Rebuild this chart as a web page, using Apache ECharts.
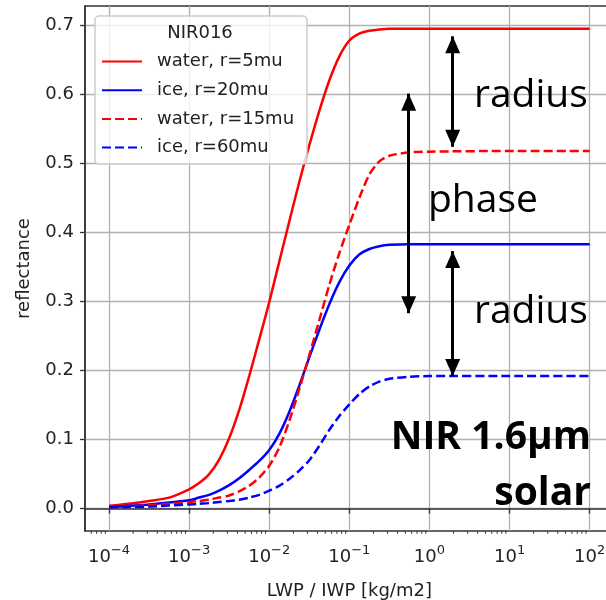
<!DOCTYPE html>
<html>
<head>
<meta charset="utf-8">
<script src="https://cdn.jsdelivr.net/npm/echarts@6/dist/echarts.min.js"></script>
<style>html,body{margin:0;padding:0;background:#fff}#c{width:606px;height:600px}</style>
</head>
<body>
<div id="c"></div>
<script>
// ---- data ----
const xValues = [1e-4, 1.78e-4, 3.16e-4, 5.62e-4, 1e-3, 1.33e-3, 1.78e-3, 2.37e-3, 3.16e-3, 4.22e-3, 5.62e-3, 7.5e-3,
                 0.01, 0.0133, 0.0178, 0.0237, 0.0316, 0.0422, 0.0562, 0.075, 0.1, 0.133, 0.178, 0.237, 0.316, 0.562, 1, 10, 100];
const water5  = [0.004, 0.007, 0.011, 0.016, 0.028, 0.037, 0.050, 0.071, 0.102, 0.143, 0.192, 0.245,
                 0.299, 0.357, 0.416, 0.473, 0.526, 0.576, 0.620, 0.655, 0.678, 0.688, 0.692, 0.694, 0.695, 0.695, 0.695, 0.695, 0.695];
const ice20   = [0.002, 0.004, 0.006, 0.009, 0.012, 0.016, 0.020, 0.026, 0.034, 0.044, 0.056, 0.069,
                 0.085, 0.108, 0.140, 0.178, 0.219, 0.259, 0.296, 0.328, 0.352, 0.368, 0.376, 0.380, 0.382, 0.383, 0.383, 0.383, 0.383];
const water15 = [0.002, 0.003, 0.005, 0.007, 0.0096, 0.011, 0.013, 0.016, 0.019, 0.025, 0.033, 0.045,
                 0.062, 0.088, 0.127, 0.173, 0.222, 0.273, 0.324, 0.370, 0.411, 0.450, 0.484, 0.503, 0.511, 0.516, 0.517, 0.518, 0.518];
const ice60   = [0.002, 0.0025, 0.003, 0.0045, 0.006, 0.007, 0.008, 0.0095, 0.011, 0.013, 0.016, 0.020,
                 0.026, 0.033, 0.043, 0.055, 0.070, 0.091, 0.114, 0.134, 0.151, 0.166, 0.177, 0.184, 0.188, 0.191, 0.192, 0.192, 0.192];
const seriesNames = ['water, r=5mu', 'ice, r=20mu', 'water, r=15mu', 'ice, r=60mu'];
const legendTitle = 'NIR016';
const xTickValues = [1e-4, 1e-3, 1e-2, 1e-1, 1, 10, 100];
const yTickValues = [0, 0.1, 0.2, 0.3, 0.4, 0.5, 0.6, 0.7];
const xAxisTitle = 'LWP / IWP [kg/m2]';
const yAxisTitle = 'reflectance';
// annotation arrows: [x, yStart, yEnd]
const arrows = [[1.95, 0.684, 0.524], [0.55, 0.601, 0.283], [1.95, 0.373, 0.192]];
const annotations = ['radius', 'phase', 'radius', 'NIR 1.6µm', 'solar'];

// minor ticks of the log axis
const xMinor = [];
for (let e = -5; e <= 2; e++) for (let k = 2; k <= 9; k++) xMinor.push(k * Math.pow(10, e));

const X_MIN = Math.pow(10, -4.3), X_MAX = Math.pow(10, 2.3);
const Y_MIN = -0.0324, Y_MAX = 0.7279;

const chart = echarts.init(document.getElementById('c'), null, {renderer: 'canvas'});
const FONT = 'DejaVu Sans';
const TXT = '#222';
const AX = '#333';

function pairs(ys) { return xValues.map((x, i) => [x, ys[i]]); }

const lineSeries = [water5, ice20, water15, ice60].map((ys, i) => ({
  type: 'line', name: seriesNames[i], data: pairs(ys),
  showSymbol: false, symbol: 'none', smooth: 0.25,
  lineStyle: {color: i % 2 === 0 ? '#ff0000' : '#0000ff', width: 2.5, type: i < 2 ? 'solid' : [9, 4]},
  itemStyle: {color: i % 2 === 0 ? '#ff0000' : '#0000ff'},
  z: 3
}));

lineSeries[0].markLine = {
  silent: true, animation: false,
  symbol: ['triangle', 'triangle'], symbolSize: [15, 17], symbolOffset: [[0, 8.5], [0, 8.5]],
  lineStyle: {color: '#000', width: 3, type: 'solid'},
  label: {show: false},
  data: arrows.map(a => [{coord: [a[0], a[1]]}, {coord: [a[0], a[2]]}])
};

const option = {
  animation: false,
  grid: {left: 85, top: 6, right: -7.7, bottom: 69, show: true, borderColor: AX, borderWidth: 1.5,
         containLabel: false, outerBoundsMode: 'none'},
  xAxis: {
    type: 'log', logBase: 10, min: X_MIN, max: X_MAX,
    name: xAxisTitle, nameLocation: 'middle', nameGap: 51,
    nameTextStyle: {fontFamily: FONT, fontSize: 18, color: TXT},
    axisLine: {show: true, lineStyle: {color: AX, width: 1.5}},
    axisTick: {show: true, length: 5, lineStyle: {color: AX, width: 1.3}, customValues: xTickValues},
    splitLine: {show: true, lineStyle: {color: '#b0b0b0', width: 1.3}},
    axisLabel: {
      customValues: xTickValues, margin: 13,
      formatter: v => { const e = Math.round(Math.log10(v)); return '{b|10}{s|' + (e < 0 ? '−' : '') + Math.abs(e) + '}'; },
      rich: {
        b: {fontFamily: FONT, fontSize: 18, color: TXT, lineHeight: 22, verticalAlign: 'bottom'},
        s: {fontFamily: FONT, fontSize: 13, color: TXT, lineHeight: 14, verticalAlign: 'top'}
      }
    }
  },
  yAxis: {
    type: 'value', min: Y_MIN, max: Y_MAX,
    name: yAxisTitle, nameLocation: 'middle', nameGap: 52,
    nameTextStyle: {fontFamily: FONT, fontSize: 18, color: TXT},
    axisLine: {show: true, lineStyle: {color: AX, width: 1.5}},
    axisTick: {show: true, length: 5, lineStyle: {color: AX, width: 1.3}, customValues: yTickValues},
    splitLine: {show: true, lineStyle: {color: '#b0b0b0', width: 1.3}},
    axisLabel: {customValues: yTickValues, margin: 11, fontFamily: FONT, fontSize: 18, color: TXT,
      formatter: v => (Math.round(v * 10) / 10).toFixed(1)}
  },
  legend: {
    data: seriesNames, orient: 'vertical', left: 96, top: 47.5,
    itemWidth: 40, itemHeight: 14, itemGap: 10.7, z: 20,
    itemStyle: {color: 'rgba(0,0,0,0)', borderWidth: 0, opacity: 0},
    textStyle: {fontFamily: FONT, fontSize: 18, color: TXT, lineHeight: 18, padding: [0, 0, 0, 10]},
    selectedMode: false
  },
  graphic: [
    {type: 'rect', z: 15, shape: {x: 95, y: 16, width: 212, height: 148, r: 4},
      style: {fill: 'rgba(255,255,255,0.8)', stroke: '#cccccc', lineWidth: 1.5}},
    {type: 'text', z: 20, x: 200, y: 33, style: {text: legendTitle, font: '18px "DejaVu Sans"', fill: TXT, textAlign: 'center', textVerticalAlign: 'middle'}},
    {type: 'text', z: 20, x: 474, y: 96, style: {text: annotations[0], font: '39px "Open Sans"', fill: '#000', textAlign: 'left', textVerticalAlign: 'middle'}},
    {type: 'text', z: 20, x: 428, y: 201, style: {text: annotations[1], font: '39px "Open Sans"', fill: '#000', textAlign: 'left', textVerticalAlign: 'middle'}},
    {type: 'text', z: 20, x: 474, y: 312, style: {text: annotations[2], font: '39px "Open Sans"', fill: '#000', textAlign: 'left', textVerticalAlign: 'middle'}},
    {type: 'text', z: 20, x: 591, y: 438, style: {text: annotations[3], font: 'bold 39px "Open Sans"', fill: '#000', textAlign: 'right', textVerticalAlign: 'middle'}},
    {type: 'text', z: 20, x: 591, y: 494, style: {text: annotations[4], font: 'bold 39px "Open Sans"', fill: '#000', textAlign: 'right', textVerticalAlign: 'middle'}}
  ],
  series: lineSeries.concat([{
    type: 'custom', name: 'minor', silent: true, clip: false, z: 5,
    data: xMinor.filter(v => v >= X_MIN && v <= X_MAX).map(v => [v, Y_MIN]),
    renderItem: (params, api) => {
      const p = api.coord([api.value(0), Y_MIN]);
      return {type: 'line', shape: {x1: p[0], y1: p[1], x2: p[0], y2: p[1] + 2.8}, style: {stroke: AX, lineWidth: 1}};
    }
  }])
};
chart.setOption(option);
</script>
</body>
</html>
